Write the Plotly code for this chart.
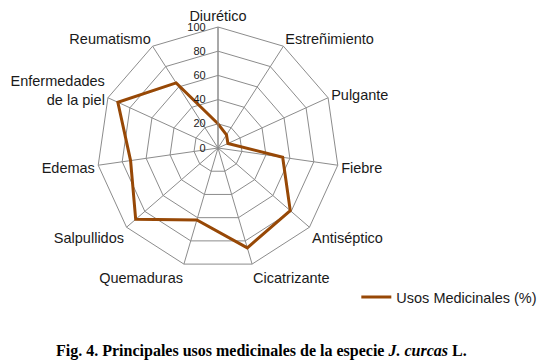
import plotly.graph_objects as go

categories = ["Diurético", "Estreñimiento", "Pulgante", "Fiebre", "Antiséptico",
              "Cicatrizante", "Quemaduras", "Salpullidos", "Edemas",
              "Enfermedades<br>de la piel", "Reumatismo"]
values = [20, 13, 9, 54, 79, 86, 62, 90, 73, 91, 64]
series_name = "Usos Medicinales (%)"
radial_ticks = [0, 20, 40, 60, 80, 100]

W, H = 544, 364
cx, cy, R = 218, 148, 121

fig = go.Figure()
fig.add_trace(go.Scatterpolar(
    r=values + values[:1],
    theta=categories + categories[:1],
    mode="lines",
    line=dict(color="#974806", width=3),
    name=series_name,
    showlegend=True,
))

fig.update_layout(
    width=W, height=H,
    margin=dict(l=0, r=0, t=0, b=0),
    paper_bgcolor="white",
    plot_bgcolor="white",
    font=dict(family="Liberation Sans, Arial, sans-serif", size=14, color="#1a1a1a"),
    polar=dict(
        domain=dict(x=[(cx - R) / W, (cx + R) / W], y=[(H - cy - R) / H, (H - cy + R) / H]),
        gridshape="linear",
        bgcolor="white",
        angularaxis=dict(
            rotation=90, direction="clockwise",
            showgrid=True, gridcolor="#8c8c8c", gridwidth=1,
            showline=True, linecolor="#8c8c8c", linewidth=1,
            ticks="", tickfont=dict(size=14.5, color="#1a1a1a"),
            categoryorder="array", categoryarray=categories,
        ),
        radialaxis=dict(
            range=[0, 100], tickvals=radial_ticks,
            angle=90, tickangle=90, side="counterclockwise",
            showgrid=True, gridcolor="#8c8c8c", gridwidth=1,
            showline=True, linecolor="#8c8c8c", linewidth=1,
            ticks="outside", ticklen=8, tickcolor="rgba(0,0,0,0)",
            tickfont=dict(size=11, color="#1a1a1a"),
        ),
    ),
    legend=dict(
        x=0.655, y=1 - 297 / H, xanchor="left", yanchor="middle",
        font=dict(size=14.5, color="#1a1a1a"),
        bgcolor="rgba(0,0,0,0)",
        itemwidth=30,
    ),
    annotations=[dict(
        text="<b>Fig. 4. Principales usos medicinales de la especie <i>J. curcas</i> L.</b>",
        x=54 / W, y=1 - 351 / H, xref="paper", yref="paper",
        xanchor="left", yanchor="middle", showarrow=False,
        font=dict(family="Liberation Serif, Times New Roman, serif", size=16, color="black"),
    )],
)

fig.write_html("out.html", config={"displayModeBar": False},
               post_script="document.body.style.margin='0px';")
